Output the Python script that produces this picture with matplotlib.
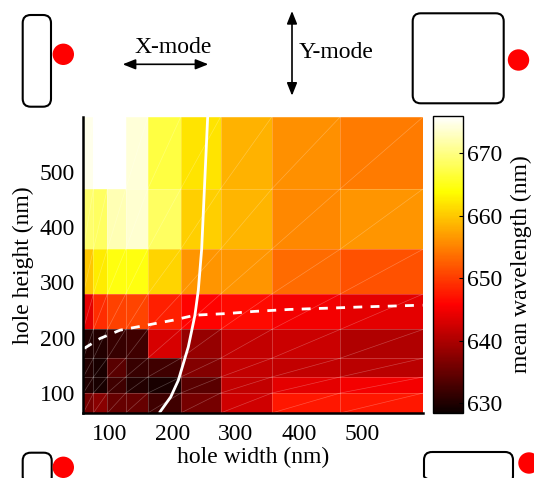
import matplotlib
matplotlib.use("Agg")
import matplotlib.pyplot as plt
import numpy as np
from matplotlib.patches import FancyBboxPatch, Circle

plt.rcParams['font.family'] = ['Liberation Serif', 'DejaVu Serif']
plt.rcParams['font.size'] = 17

# cell edges of the simulated hole sizes (nm)
width_edges = [59, 75, 97, 126, 161, 213, 276, 357, 465, 596]
height_edges = [64, 100, 129, 163, 215, 279, 360, 469, 599]

# mean wavelength (nm), rows from the smallest height upward
mean_wl = np.array([
    [636.2, 637.4, 635.0, 635.0, 632.3, 636.2, 642.5, 647.5, 647.5],
    [630.0, 629.5, 632.3, 630.2, 629.5, 634.0, 641.5, 644.0, 645.0],
    [630.2, 629.5, 634.0, 631.7, 632.3, 637.0, 641.5, 641.5, 641.0],
    [630.0, 630.2, 631.7, 632.3, 643.0, 638.4, 641.5, 642.0, 640.2],
    [644.0, 649.0, 650.5, 650.7, 648.0, 646.0, 646.5, 645.0, 644.0],
    [660.0, 662.5, 664.5, 664.5, 660.8, 656.4, 656.4, 653.5, 651.6],
    [669.0, 668.5, 672.3, 673.6, 668.5, 660.4, 658.6, 655.4, 656.4],
    [675.0, 676.0, 676.0, 674.0, 667.0, 662.0, 658.5, 656.0, 654.5],
])

# solid boundary line
solid_w = [180.3, 197.2, 209.2, 225.0, 235.5, 240.8, 246.1, 255.6]
solid_h = [66, 93, 123, 183.5, 241, 286, 360, 599]

# dashed boundary line
dash_w = [60.2, 85.5, 117, 159.2, 201.3, 235.5, 288.2, 327.6, 385.6, 446.1, 504.1, 595.3]
dash_h = [180.6, 198.7, 213.7, 222.8, 231.8, 240.8, 243.9, 247.5, 251.2, 253.5, 255.9, 258.9]

W, H = 534, 478
fig = plt.figure(figsize=(W / 100, H / 100), dpi=100)

ax = fig.add_axes([83.3 / W, 1 - 413 / H, (423 - 83.3) / W, (413 - 117) / H])
mesh = ax.pcolormesh(width_edges, height_edges, mean_wl, cmap='hot',
                     vmin=628.4, vmax=676, shading='flat')

# faint cell borders and triangle diagonals
for x in width_edges:
    ax.plot([x, x], [height_edges[0], height_edges[-1]], color='white', lw=0.6, alpha=0.25)
for y in height_edges:
    ax.plot([width_edges[0], width_edges[-1]], [y, y], color='white', lw=0.6, alpha=0.25)
for i in range(len(width_edges) - 1):
    for j in range(len(height_edges) - 1):
        ax.plot([width_edges[i], width_edges[i + 1]], [height_edges[j], height_edges[j + 1]],
                color='white', lw=0.5, alpha=0.25)

ax.plot(solid_w, solid_h, color='white', lw=2)
ax.plot(dash_w, dash_h, color='white', lw=2, dashes=(3.2, 3))

ax.set_xlim(59, 596)
ax.set_ylim(64, 599)
ax.set_xticks([100, 200, 300, 400, 500])
ax.set_yticks([100, 200, 300, 400, 500])
ax.tick_params(length=0, pad=8)
ax.tick_params(axis='y', pad=6)
for s in ['top', 'right']:
    ax.spines[s].set_visible(False)
for s in ['left', 'bottom']:
    ax.spines[s].set_linewidth(1.8)
ax.set_xlabel('hole width (nm)', labelpad=1)
ax.set_ylabel('hole height (nm)', labelpad=4)

cax = fig.add_axes([433 / W, 1 - 413 / H, 30 / W, (413 - 116) / H])
cb = fig.colorbar(mesh, cax=cax)
cb.set_ticks([630, 640, 650, 660, 670])
cb.ax.tick_params(length=3, width=0.8, direction='in', pad=3)
cb.outline.set_linewidth(1)
cb.set_label('mean wavelength (nm)', labelpad=6)

# mode sketches around the map, in pixel units
deco = fig.add_axes([0, 0, 1, 1], zorder=5)
deco.set_xlim(0, W)
deco.set_ylim(H, 0)
deco.axis('off')
deco.patch.set_alpha(0)

def hole(x0, y0, w, h):
    deco.add_patch(FancyBboxPatch((x0, y0), w, h, boxstyle='round,pad=0,rounding_size=8',
                                  fc='none', ec='black', lw=1.5, clip_on=False))

hole(22.7, 15, 28.3, 91.7)
hole(412.7, 13.3, 91, 90)
hole(22.7, 452.7, 29, 32)
hole(424, 452, 89, 32)
for cx, cy in [(63.3, 54.3), (518.5, 60), (63.3, 467.3), (529, 463)]:
    deco.add_patch(Circle((cx, cy), 10.7, color='red', ec='none'))

arrow_style = '<|-|>,head_length=0.45,head_width=0.18'
deco.annotate('', xy=(208.3, 64.3), xytext=(122.7, 64.3),
              arrowprops=dict(arrowstyle=arrow_style, color='black', lw=1.2,
                              shrinkA=0, shrinkB=0))
deco.annotate('', xy=(292, 11), xytext=(292, 95.7),
              arrowprops=dict(arrowstyle=arrow_style, color='black', lw=1.2,
                              shrinkA=0, shrinkB=0))
deco.text(173.3, 53, 'X-mode', ha='center', va='baseline')
deco.text(298.7, 58, 'Y-mode', ha='left', va='baseline')

fig.savefig('out.png', dpi=100)
